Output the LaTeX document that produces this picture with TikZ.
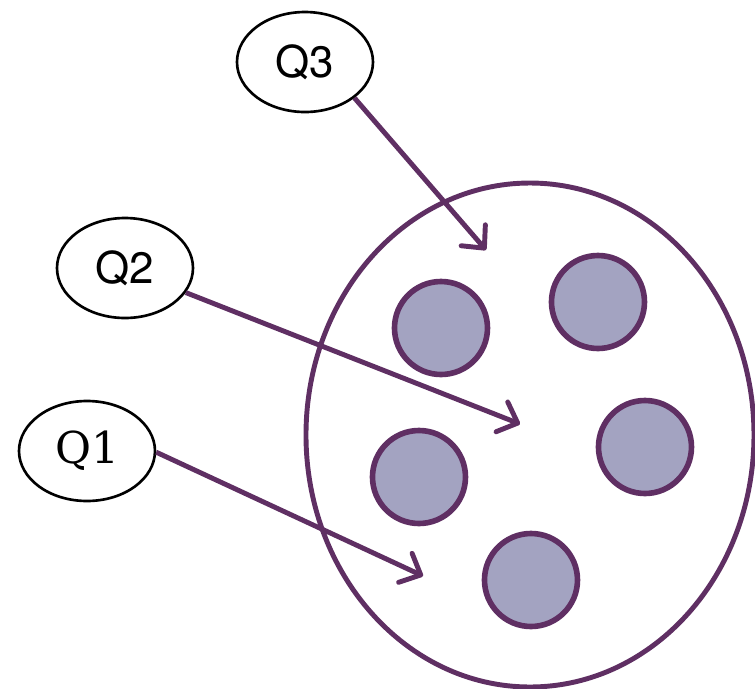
\documentclass[tikz,border=0pt]{standalone}
\usepackage{fontspec}
\setmainfont{TeX Gyre Heros}
\newfontfamily\slabfont{DejaVu Serif}
\usetikzlibrary{positioning, arrows.meta, shapes.geometric}
\definecolor{plum}{HTML}{5F2F63}
\definecolor{lilac}{HTML}{A3A3C1}

\begin{document}
\begin{tikzpicture}[
  query/.style={ellipse, draw=black, line width=0.75pt, fill=white, minimum width=1.36cm, minimum height=1.0cm, inner sep=0pt, font=\fontsize{12.5}{14}\selectfont},
  pool/.style={ellipse, draw=plum, line width=1.4pt, minimum width=4.48cm, minimum height=5.04cm, inner sep=0pt},
  item/.style={circle, draw=plum, line width=1.6pt, fill=lilac, minimum size=0.93cm, inner sep=0pt},
  link/.style={draw=plum, line width=1.4pt, -{Straight Barb[length=1.7mm, width=3.2mm, round]}}
]
\useasboundingbox (0,0) rectangle (7.55,-6.89);

% The pool and its items
\node[pool] (pool) at (5.30,-4.35) {};
\node[item] (a) at (4.41,-3.28) {};
\node[item] (b) at (5.98,-3.02) {};
\node[item] (c) at (6.45,-4.47) {};
\node[item] (d) at (4.19,-4.77) {};
\node[item] (e) at (5.31,-5.80) {};

% Queries
\node[query] (q3) at (3.05,-0.62) {Q3};
\node[query] (q2) at (1.25,-2.68) {Q2};
\node[query] (q1) at (0.87,-4.51) {\slabfont Q1};

% Targets inside the pool
\coordinate (t3) at (4.86,-2.50);
\coordinate (t2) at (5.20,-4.24);
\coordinate (t1) at (4.23,-5.76);

\draw[link] (q3.-36) -- (t3);
\draw[link] (q2.-22) -- (t2);
\draw[link] (q1.-1) -- (t1);

\end{tikzpicture}
\end{document}
